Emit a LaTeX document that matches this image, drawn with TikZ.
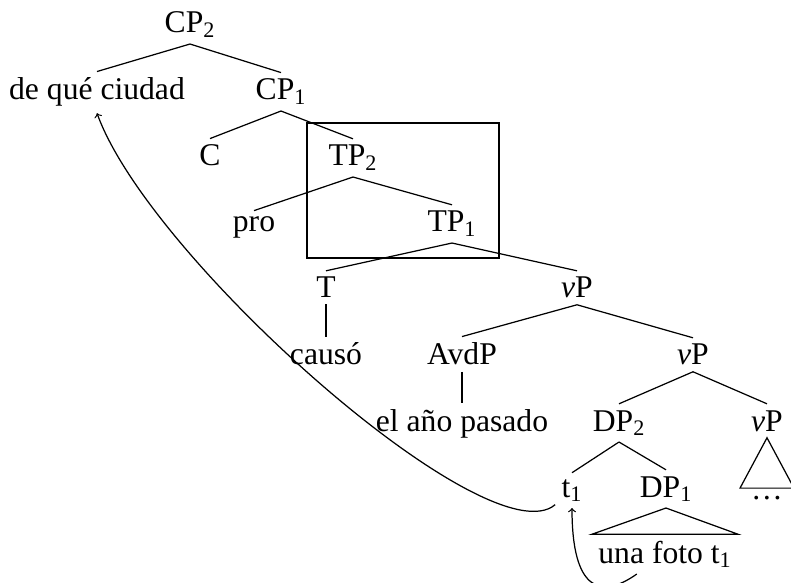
\documentclass[tikz,border=0pt]{standalone}
\usepackage{fontspec}
\setmainfont{Liberation Serif}

\begin{document}
\begin{tikzpicture}[scale=0.2, line width=0.7pt, font=\fontsize{18}{21.6}\selectfont]
\tikzstyle{every node}+=[anchor=base, inner sep=0.3333em]
\useasboundingbox (0,0) rectangle (79.1,-58.3);
\draw (19.0,-3.3) node (cp2) {CP\textsubscript{2}};
\draw (9.7,-10.0) node (dqc) {de qué ciudad};
\draw (28.1,-10.0) node (cp1) {CP\textsubscript{1}};
\draw (21.0,-16.6) node (c) {C};
\draw (35.3,-16.6) node (tp2) {TP\textsubscript{2}};
\draw (25.4,-23.2) node (pro) {pro};
\draw (45.2,-23.2) node (tp1) {TP\textsubscript{1}};
\draw (32.6,-29.8) node (t) {T};
\draw (57.7,-29.8) node (vp1) {\textit{v}P};
\draw (32.6,-36.5) node (causo) {causó};
\draw (46.2,-36.5) node (advp) {AvdP};
\draw (69.3,-36.5) node (vp2) {\textit{v}P};
\draw (46.2,-43.1) node (ano) {el año pasado};
\draw (61.9,-43.1) node (dp2) {DP\textsubscript{2}};
\draw (76.7,-43.1) node (vp3) {\textit{v}P};
\draw (57.2,-49.7) node (t1) {t\textsubscript{1}};
\draw (66.6,-49.7) node (dp1) {DP\textsubscript{1}};
\draw (76.7,-49.9) node [text height=0.25em, inner xsep=0.6em] (dots) {\dots};
\draw (66.5,-56.3) node (foto) {una foto t\textsubscript{1}};
% branches
\draw [black] (cp2.south) -- (dqc.north);
\draw [black] (cp2.south) -- (cp1.north);
\draw [black] (cp1.south) -- (c.north);
\draw [black] (cp1.south) -- (tp2.north);
\draw [black] (tp2.south) -- (pro.north);
\draw [black] (tp2.south) -- (tp1.north);
\draw [black] (tp1.south) -- (t.north);
\draw [black] (tp1.south) -- (vp1.north);
\draw [black] (t.south) -- (causo.north);
\draw [black] (vp1.south) -- (advp.north);
\draw [black] (vp1.south) -- (vp2.north);
\draw [black] (advp.south) -- (ano.north);
\draw [black] (vp2.south) -- (dp2.north);
\draw [black] (vp2.south) -- (vp3.north);
\draw [black] (dp2.south) -- (t1.north);
\draw [black] (dp2.south) -- (dp1.north);
% roofs
\draw [black] (vp3.south) -- (dots.north west) -- (dots.north east) -- cycle;
\draw [black] (dp1.south) -- (foto.north west) -- (foto.north east) -- cycle;
% box
\draw [black] (30.7,-12.3) rectangle (49.9,-25.8);
% movement
\draw [black, ->] (t1) .. controls (49.0,-56.0) and (15.0,-26.0) .. (dqc.south);
\draw [black, ->] (foto) .. controls (60.0,-60.0) and (57.2,-59.0) .. (t1.south);
\end{tikzpicture}
\end{document}
